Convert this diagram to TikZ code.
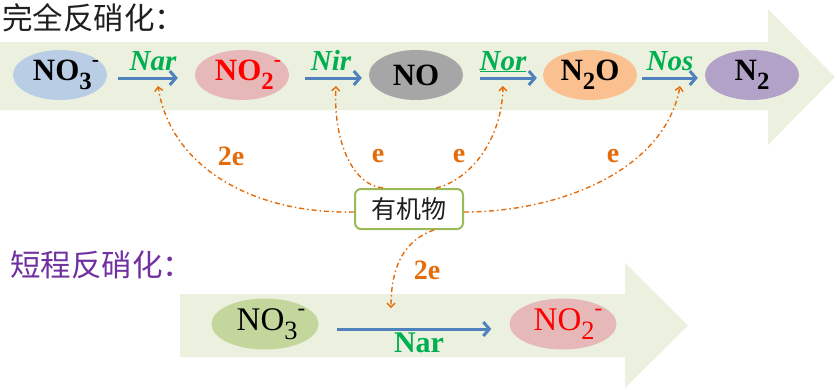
\documentclass[tikz,border=0pt]{standalone}
\usepackage{fontspec}
\usepackage{graphicx}
\setmainfont{Liberation Serif}
\newfontfamily\cjk{Noto Sans CJK SC}
\usetikzlibrary{arrows.meta,shapes.geometric}
\definecolor{band}{HTML}{EBF1DE}
\definecolor{cno3}{HTML}{B9CDE5}
\definecolor{cno2}{HTML}{E6B9B8}
\definecolor{cno}{HTML}{A6A6A6}
\definecolor{cntwoo}{HTML}{FAC090}
\definecolor{cntwo}{HTML}{B3A2C7}
\definecolor{cgreenell}{HTML}{C3D69B}
\definecolor{cblue}{HTML}{4F81BD}
\definecolor{cgreen}{HTML}{00B050}
\definecolor{corange}{HTML}{E46C0A}
\definecolor{cbox}{HTML}{9BBB59}
\definecolor{cpurple}{HTML}{7030A0}
\definecolor{ctitle}{HTML}{1F1F1F}
\newcommand\chsub[1]{\raisebox{-0.28em}{\scalebox{0.8}{#1}}}
\newcommand\chsup[1]{\raisebox{0.45em}{\scalebox{0.7}{#1}}}
\tikzset{
  ell/.style={ellipse, minimum width=94pt, minimum height=50pt, inner sep=0pt},
  lell/.style={ellipse, minimum width=107pt, minimum height=51pt, inner sep=0pt},
  ftop/.style={font=\fontsize{31}{33}\selectfont\bfseries},
  flow/.style={font=\fontsize{33}{35}\selectfont},
  enz/.style={anchor=base, text=cgreen, font=\fontsize{29}{31}\selectfont\bfseries\itshape},
  barrow/.style={draw=cblue, line width=3pt, -{Straight Barb[length=6pt,width=14pt]}},
  oline/.style={draw=corange, line width=1.4pt, dash pattern=on 5pt off 3pt on 1.5pt off 3pt,
    -{Straight Barb[length=4pt,width=8pt]}},
  elab/.style={text=corange, font=\fontsize{28}{30}\selectfont\bfseries},
  ttl/.style={anchor=west, font=\cjk\fontsize{30.5}{32}\selectfont, inner sep=0pt}
}
\begin{document}
\begin{tikzpicture}[x=1pt,y=-1pt]
\useasboundingbox (0,0) rectangle (837,389);
% big arrows
\fill[band] (0,42) -- (768,42) -- (768,9) -- (835,77) -- (768,145) -- (768,110) -- (0,110) -- cycle;
\fill[band] (180,294) -- (625,294) -- (625,263) -- (688,325.5) -- (625,388) -- (625,357) -- (180,357) -- cycle;
% titles
\node[ttl, text=ctitle] (title1) at (2,18) {完全反硝化：};
\node[ttl, text=cpurple] (title2) at (10,265) {短程反硝化：};
% top row
\node[ell, fill=cno3, label={[ftop, xshift=6pt]center:NO\chsub{3}\chsup{-}}] (no3) at (60,75) {};
\node[ell, fill=cno2, label={[ftop, text=red, xshift=6pt]center:NO\chsub{2}\chsup{-}}] (no2) at (242,75) {};
\node[ell, fill=cno, label={[ftop]center:NO}] (no) at (416,75) {};
\node[ell, fill=cntwoo, label={[ftop]center:N\chsub{2}O}] (n2o) at (590,75) {};
\node[ell, fill=cntwo, label={[ftop]center:N\chsub{2}}] (n2) at (752,75) {};
\draw[barrow, shorten <=11pt, shorten >=17pt] ([yshift=-3pt]no3.east) -- ([yshift=-3pt]no2.west);
\draw[barrow, shorten <=16pt, shorten >=7pt] ([yshift=-3pt]no2.east) -- ([yshift=-3pt]no.west);
\draw[barrow, shorten <=17pt, shorten >=6pt] ([yshift=-3pt]no.east) -- ([yshift=-3pt]n2o.west);
\draw[barrow, shorten <=5pt, shorten >=7pt] ([yshift=-3pt]n2o.east) -- ([yshift=-3pt]n2.west);
\node[enz] (lnar) at (153,70) {Nar};
\node[enz] (lnir) at (331,70) {Nir};
\node[enz] (lnor) at (503,70) {\underline{Nor}};
\node[enz] (lnos) at (670,70) {Nos};
% organic matter
\node[draw=cbox, line width=2pt, rounded corners=6pt, fill=white, minimum width=108pt,
  minimum height=40pt, inner sep=0pt, font=\cjk\fontsize{25}{27}\selectfont, text=ctitle] (org) at (409,209) {有机物};
\coordinate (t1) at (158,86);
\coordinate (t2) at (336,86);
\coordinate (t3) at (503,86);
\coordinate (t4) at (680,86);
\draw[oline] ([yshift=-3pt]org.west) .. controls (250,214) and (170,165) .. (t1);
\draw[oline] ([xshift=-26pt]org.north) .. controls (352,185) and (333,140) .. (t2);
\draw[oline] ([xshift=27pt]org.north) .. controls (470,180) and (502,140) .. (t3);
\draw[oline] ([yshift=-3pt]org.east) .. controls (560,212) and (665,170) .. (t4);
\node[elab] (e1) at (231,156) {2e};
\node[elab] (e2) at (378,156) {e};
\node[elab] (e3) at (459,156) {e};
\node[elab] (e4) at (613,156) {e};
% lower row
\node[lell, fill=cgreenell, label={[flow, xshift=6pt]center:NO\chsub{3}\chsup{-}}] (lno3) at (265,324) {};
\node[lell, fill=cno2, label={[flow, text=red, xshift=5pt]center:NO\chsub{2}\chsup{-}}] (lno2) at (563,324) {};
\draw[barrow, shorten <=18pt, shorten >=18pt] ([yshift=-5pt]lno3.east) -- ([yshift=-5pt]lno2.west);
\node[anchor=base, text=cgreen, font=\fontsize{30}{32}\selectfont\bfseries] (lnar2) at (419,352) {Nar};
\coordinate (t5) at (391,308);
\draw[oline] ([xshift=25pt]org.south) .. controls (405,240) and (391,265) .. (t5);
\node[elab] (e5) at (427,270) {2e};
\end{tikzpicture}
\end{document}
